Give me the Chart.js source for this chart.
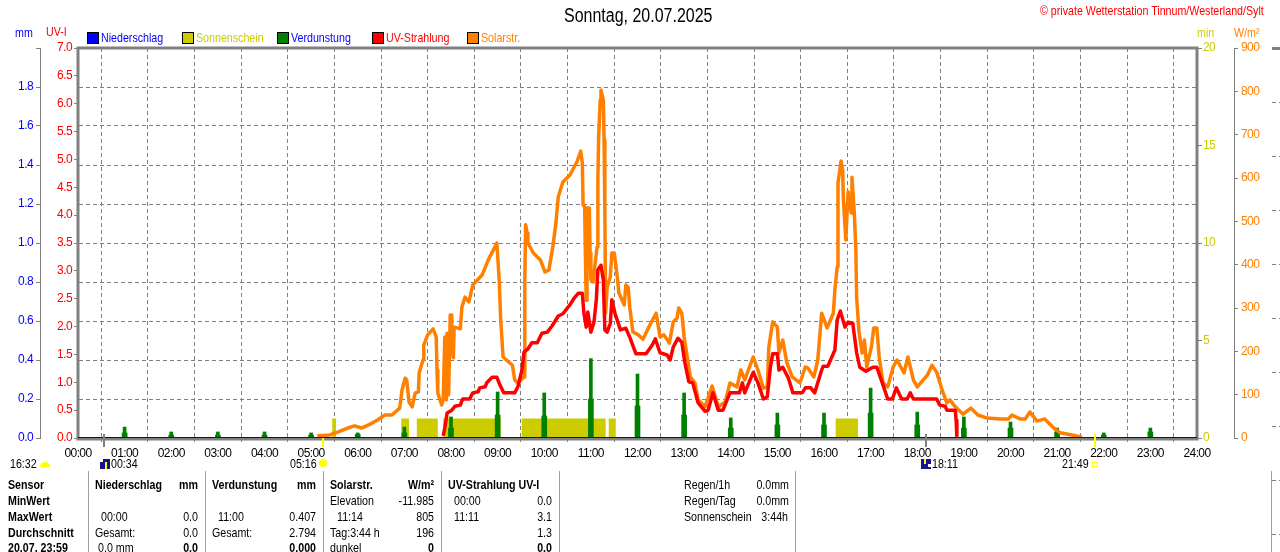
<!DOCTYPE html>
<html lang="de">
<head>
<meta charset="UTF-8">
<title>Sonntag, 20.07.2025</title>
<script src="https://cdn.jsdelivr.net/npm/chart.js"></script>
<style>
html, body { margin: 0; padding: 0; background: #fff; overflow: hidden; }
#page { position: relative; width: 1280px; height: 552px; overflow: hidden; font-family: "Liberation Sans", Arial, sans-serif; font-size: 13px; color: #000; }
#page canvas { position: absolute; left: 0; top: 0; }
.t { position: absolute; white-space: nowrap; line-height: 16px; height: 16px; transform-origin: 0 50%; transform: scaleX(.82); }
.r { transform-origin: 100% 50%; transform: translateX(-100%) scaleX(.82); }
.b { font-weight: bold; }
.box { position: absolute; width: 10px; height: 10px; border: 1px solid #000; top: 32px; }
</style>
</head>
<body>
<div id="page"><canvas id="chart" width="1280" height="552"></canvas></div>
<script>
// x values are minutes of the day
var rainTimes = [0, 1440];
var rainValues = [0, 0];

var sunTimes = [327, 327, 332, 332, 416, 416, 426, 426, 436, 436, 463, 463, 470, 470, 544, 544, 571, 571, 679, 679, 683, 683, 692, 692, 975, 975, 1004, 1004];
var sunValues = [0, 1, 1, 0, 0, 1, 1, 0, 0, 1, 1, 0, 0, 1, 1, 0, 0, 1, 1, 0, 0, 1, 1, 0, 0, 1, 1, 0];

var evapTimes = [60, 120, 180, 240, 300, 360, 420, 480, 540, 600, 660, 720, 780, 840, 900, 960, 1020, 1080, 1140, 1200, 1260, 1320, 1380];
var evapPeak = [.056, .031, .031, .031, .026, .026, .056, .108, .236, .231, .407, .328, .231, .103, .128, .128, .256, .133, .108, .082, .051, .026, .051];
var evapBase = [.026, .015, .015, .015, .015, .018, .026, .051, .118, .113, .2, .164, .118, .051, .067, .067, .128, .067, .051, .051, .031, .015, .031];

var uvTimes = [470, 472, 475, 481, 485, 492, 495, 504, 508, 515, 517, 524, 526, 533, 539, 543, 548, 562, 566, 571, 574, 579, 584, 591, 597, 604, 610, 618, 624, 633, 638, 644, 649, 651, 654, 656, 660, 664, 667, 669, 673, 676, 678, 681, 685, 687, 691, 698, 705, 710, 718, 731, 739, 743, 749, 758, 762, 766, 772, 777, 781, 786, 791, 798, 807, 811, 817, 824, 830, 839, 851, 855, 858, 869, 875, 882, 887, 891, 894, 900, 902, 907, 914, 920, 932, 936, 943, 948, 957, 959, 965, 974, 977, 981, 987, 991, 997, 1002, 1006, 1014, 1023, 1028, 1035, 1042, 1048, 1053, 1060, 1067, 1071, 1075, 1105, 1109, 1116, 1118, 1129, 1130, 1131];
var uvValues = [.04, .18, .45, .5, .57, .59, .7, .7, .81, .83, .9, .92, .99, 1.09, 1.09, .95, .81, .81, .92, 1.2, 1.54, 1.6, 1.71, 1.71, 1.88, 1.9, 2.01, 2.19, 2.23, 2.39, 2.5, 2.6, 2.6, 2.24, 1.99, 2.26, 1.9, 2.08, 2.48, 3.02, 3.1, 2.84, 1.94, 1.9, 2.06, 2.48, 2.24, 1.94, 1.97, 1.81, 1.51, 1.51, 1.67, 1.78, 1.53, 1.49, 1.4, 1.63, 1.79, 1.72, 1.35, 1.01, .99, .63, .48, .5, .81, .5, .5, .81, .81, .99, .81, 1.18, .99, .7, .74, 1.27, 1.51, 1.51, 1.22, 1.27, 1.08, .81, .81, .9, .9, .81, 1.22, 1.29, 1.29, 1.58, 2.12, 2.28, 1.99, 2.08, 2.06, 1.53, 1.27, 1.2, 1.27, 1.27, .99, .7, .7, .9, .7, .7, .81, .7, .7, .59, .57, .5, .5, .32, .02];

var solarTimes = [308, 324, 335, 347, 356, 365, 376, 386, 395, 404, 414, 417, 421, 423, 426, 430, 434, 438, 439, 444, 445, 450, 457, 461, 462, 463, 468, 470, 472, 474, 475, 477, 479, 480, 481, 483, 484, 492, 494, 498, 503, 508, 520, 528, 539, 542, 544, 547, 559, 562, 566, 574, 575, 576, 578, 579, 586, 595, 601, 606, 611, 615, 618, 624, 633, 642, 647, 649, 650, 652, 653, 654, 655, 658, 659, 660, 663, 665, 668, 669, 670, 672, 673, 676, 677, 678, 679, 681, 685, 687, 690, 694, 696, 703, 705, 708, 710, 714, 721, 727, 734, 744, 749, 754, 761, 766, 771, 773, 777, 780, 784, 788, 794, 798, 807, 816, 824, 833, 839, 848, 853, 858, 869, 875, 882, 887, 889, 894, 900, 902, 907, 912, 919, 929, 936, 939, 947, 952, 957, 964, 972, 974, 977, 978, 982, 984, 985, 988, 991, 995, 996, 999, 1001, 1002, 1005, 1009, 1012, 1015, 1021, 1024, 1028, 1031, 1036, 1042, 1049, 1054, 1063, 1068, 1075, 1080, 1093, 1099, 1105, 1112, 1118, 1122, 1129, 1139, 1149, 1158, 1170, 1187, 1197, 1202, 1212, 1219, 1225, 1234, 1244, 1257, 1264, 1279, 1292];
var solarValues = [5, 7, 14, 23, 28, 23, 32, 42, 53, 53, 69, 111, 138, 134, 83, 72, 104, 106, 150, 180, 215, 238, 252, 233, 157, 104, 76, 88, 233, 88, 242, 100, 284, 284, 226, 185, 256, 252, 302, 325, 314, 353, 376, 411, 450, 365, 272, 187, 168, 134, 127, 141, 365, 492, 473, 450, 427, 411, 383, 388, 441, 496, 556, 591, 607, 637, 662, 635, 538, 533, 418, 318, 531, 531, 427, 365, 360, 395, 441, 595, 695, 780, 803, 780, 688, 519, 288, 348, 372, 427, 427, 372, 335, 307, 353, 348, 302, 245, 238, 228, 254, 288, 233, 238, 219, 268, 277, 300, 288, 233, 187, 141, 127, 88, 72, 120, 72, 83, 127, 118, 157, 134, 187, 157, 115, 118, 210, 268, 256, 196, 226, 175, 141, 127, 164, 162, 141, 180, 288, 254, 288, 342, 395, 588, 639, 618, 549, 457, 568, 519, 602, 519, 434, 325, 245, 196, 226, 164, 210, 254, 254, 187, 127, 118, 164, 180, 150, 187, 134, 118, 145, 168, 152, 111, 81, 88, 72, 55, 69, 53, 46, 44, 44, 53, 44, 44, 60, 39, 44, 21, 12, 7, 2];

var GRAY = '#808080', BLUE = '#0000ff', RED = '#ff0000', ORANGE = '#ff8000', OLIVE = '#cccc00', GREEN = '#008000', NAVY = '#14148c';
var tickFont = { family: '"Liberation Sans", Arial, sans-serif', size: 12 };

function pts(xs, ys) {
    return xs.map(function (x, i) { return { x: x, y: ys[i] }; });
}

var page = document.getElementById('page');
function put(x, y, text, cls, color, size) {
    var d = document.createElement('div');
    d.className = 't ' + (cls || '');
    d.style.left = x + 'px';
    d.style.top = (y - 8) + 'px';
    d.textContent = text;
    if (color) d.style.color = color;
    if (size) { d.style.fontSize = size + 'px'; d.style.lineHeight = '20px'; d.style.height = '20px'; d.style.top = (y - 10) + 'px'; }
    page.appendChild(d);
}

// header
put(564, 15, 'Sonntag, 20.07.2025', '', '#000', 19.5);
put(1040, 11, '© private Wetterstation Tinnum/Westerland/Sylt', '', RED, 13);
put(15, 33, 'mm', '', BLUE);
put(46, 32, 'UV-I', '', RED);
put(1197, 33, 'min', '', OLIVE);
put(1234, 33, 'W/m²', '', ORANGE);

// legend
[[87, BLUE, 'Niederschlag', BLUE], [182, OLIVE, 'Sonnenschein', OLIVE], [277, GREEN, 'Verdunstung', BLUE], [372, RED, 'UV-Strahlung', RED], [467, ORANGE, 'Solarstr.', ORANGE]].forEach(function (l) {
    var b = document.createElement('div');
    b.className = 'box';
    b.style.left = l[0] + 'px';
    b.style.background = l[1];
    page.appendChild(b);
    put(l[0] + 14, 38, l[2], '', l[3]);
});

// sunrise / sunset labels
put(10, 464, '16:32');
put(111, 464, '00:34');
put(290, 464, '05:16');
put(932, 464, '18:11');
put(1062, 464, '21:49');

// table
var r1 = 485, r2 = 501, r3 = 517, r4 = 533, r5 = 548;
put(8, r1, 'Sensor', 'b'); put(8, r2, 'MinWert', 'b'); put(8, r3, 'MaxWert', 'b'); put(8, r4, 'Durchschnitt', 'b'); put(8, r5, '20.07. 23:59', 'b');
put(95, r1, 'Niederschlag', 'b'); put(198, r1, 'mm', 'r b');
put(101, r3, '00:00'); put(198, r3, '0.0', 'r');
put(95, r4, 'Gesamt:'); put(198, r4, '0.0', 'r');
put(98, r5, '0.0 mm'); put(198, r5, '0.0', 'r b');
put(212, r1, 'Verdunstung', 'b'); put(316, r1, 'mm', 'r b');
put(218, r3, '11:00'); put(316, r3, '0.407', 'r');
put(212, r4, 'Gesamt:'); put(316, r4, '2.794', 'r');
put(316, r5, '0.000', 'r b');
put(330, r1, 'Solarstr.', 'b'); put(434, r1, 'W/m²', 'r b');
put(330, r2, 'Elevation'); put(434, r2, '-11.985', 'r');
put(337, r3, '11:14'); put(434, r3, '805', 'r');
put(330, r4, 'Tag:3:44 h'); put(434, r4, '196', 'r');
put(330, r5, 'dunkel'); put(434, r5, '0', 'r b');
put(448, r1, 'UV-Strahlung UV-I', 'b');
put(454, r2, '00:00'); put(552, r2, '0.0', 'r');
put(454, r3, '11:11'); put(552, r3, '3.1', 'r');
put(552, r4, '1.3', 'r');
put(552, r5, '0.0', 'r b');
put(684, r1, 'Regen/1h'); put(789, r1, '0.0mm', 'r');
put(684, r2, 'Regen/Tag'); put(789, r2, '0.0mm', 'r');
put(684, r3, 'Sonnenschein'); put(788, r3, '3:44h', 'r');

// frame, sunrise ticks and the little bits around the plot
var extras = {
    id: 'extras',
    beforeDraw: function (chart) {
        // the original font is narrower than anything installed
        chart.ctx.letterSpacing = '-0.6px';
    },
    beforeDatasetsDraw: function (chart) {
        var c = chart.ctx, a = chart.chartArea;
        c.save();
        c.strokeStyle = GRAY;
        c.lineWidth = 3;
        c.strokeRect(a.left, a.top, a.right - a.left, a.bottom - a.top + 1);
        c.restore();
    },
    afterDraw: function (chart) {
        var c = chart.ctx, i;
        c.save();
        // table separators
        c.strokeStyle = '#a0a0a0';
        c.lineWidth = 1;
        [88, 205, 323, 441, 559, 795, 1271].forEach(function (x) {
            c.beginPath(); c.moveTo(x + .5, 471); c.lineTo(x + .5, 552); c.stroke();
        });
        // piece of the next graph on the right edge
        c.fillStyle = GRAY;
        c.fillRect(1272, 47, 8, 3);
        c.strokeStyle = GRAY;
        c.setLineDash([4, 3]);
        for (i = 1; i < 10; i++) {
            c.beginPath(); c.moveTo(1272, 48 + i * 54 + .5); c.lineTo(1280, 48 + i * 54 + .5); c.stroke();
        }
        c.setLineDash([]);
        // rise and set ticks
        c.fillStyle = GRAY;
        c.fillRect(103, 434, 2, 13);
        c.fillRect(925, 434, 2, 13);
        c.fillStyle = '#ffff00';
        c.fillRect(322, 438, 2, 9);
        c.fillRect(1094, 434, 2, 13);
        // half sun at 16:32
        c.beginPath(); c.arc(45, 467, 5, Math.PI, 0); c.fill();
        // sun at 05:16
        c.beginPath(); c.arc(323, 463, 4, 0, Math.PI * 2); c.fill();
        c.fillStyle = '#ffffb0';
        c.fillRect(318, 462, 1, 2); c.fillRect(327, 462, 1, 2);
        // hollow sun at 21:49
        c.strokeStyle = '#ffff00';
        c.strokeRect(1092.5, 462.5, 5, 4);
        // moon icons
        c.fillStyle = NAVY;
        c.fillRect(100, 459, 10, 10);
        c.fillRect(921, 459, 10, 10);
        c.fillStyle = '#fff';
        c.fillRect(100, 459, 3, 3);
        c.fillRect(928, 464, 3, 3);
        c.fillStyle = '#ffff00';
        c.fillRect(105, 462, 2, 7);
        c.fillRect(924, 459, 2, 5);
        c.restore();
    }
};

new Chart(document.getElementById('chart'), {
    type: 'line',
    data: {
        datasets: [
            { label: 'Niederschlag', data: pts(rainTimes, rainValues), yAxisID: 'mm', borderColor: '#0000c0', borderWidth: 2, order: 1 },
            { label: 'UV-Strahlung', data: pts(uvTimes, uvValues), yAxisID: 'uv', borderColor: RED, borderWidth: 3.5, order: 2 },
            { label: 'Solarstr.', data: pts(solarTimes, solarValues), yAxisID: 'w', borderColor: ORANGE, borderWidth: 3.5, order: 3 },
            { type: 'bar', label: 'Verdunstung', data: pts(evapTimes, evapPeak), yAxisID: 'mm', backgroundColor: GREEN, barThickness: 3, grouped: false, order: 4 },
            { type: 'bar', label: 'Verdunstung', data: pts(evapTimes, evapBase), yAxisID: 'mm', backgroundColor: GREEN, barThickness: 5, grouped: false, order: 5 },
            { label: 'Sonnenschein', data: pts(sunTimes, sunValues), yAxisID: 'min', borderWidth: 0, borderColor: OLIVE, backgroundColor: OLIVE, fill: 'origin', order: 6 }
        ]
    },
    options: {
        responsive: false,
        animation: false,
        events: [],
        devicePixelRatio: 1,
        elements: { point: { radius: 0 }, line: { tension: 0, borderJoinStyle: 'round' } },
        layout: { padding: { top: 48, left: 0, right: 0, bottom: 0 } },
        plugins: { legend: { display: false }, tooltip: { enabled: false }, title: { display: false } },
        scales: {
            x: {
                type: 'linear', min: 0, max: 1440, offset: false,
                afterFit: function (s) { s.height = 114; },
                afterBuildTicks: function (s) {
                    s.ticks = [];
                    for (var m = 0; m <= 1440; m += 60) s.ticks.push({ value: m });
                },
                grid: { color: GRAY, lineWidth: 1, tickLength: 4, tickColor: GRAY, tickBorderDash: [] },
                border: { color: GRAY, width: 1, dash: [4, 3] },
                ticks: {
                    color: '#000', maxRotation: 0, autoSkip: false, padding: 4, font: tickFont,
                    callback: function (v) { return (v / 60 < 10 ? '0' : '') + (v / 60) + ':00'; }
                }
            },
            mm: {
                position: 'left', min: 0, max: 2, weight: 2,
                afterFit: function (s) { s.width = 40; },
                grid: { color: GRAY, lineWidth: 1, tickLength: 4, tickColor: GRAY, tickBorderDash: [] },
                border: { color: GRAY, width: 1, dash: [4, 3] },
                ticks: {
                    color: BLUE, stepSize: 0.2, padding: 3, font: tickFont,
                    callback: function (v) { return v >= 2 ? '' : v.toFixed(1); }
                }
            },
            uv: {
                position: 'left', min: 0, max: 7, weight: 1,
                afterFit: function (s) { s.width = 38; },
                grid: { drawOnChartArea: false, tickLength: 4, tickColor: GRAY },
                border: { color: GRAY, width: 1 },
                ticks: {
                    color: RED, stepSize: 0.5, padding: 2, font: tickFont,
                    callback: function (v) { return v.toFixed(1); }
                }
            },
            min: {
                position: 'right', min: 0, max: 20, weight: 1,
                afterFit: function (s) { s.width = 37; },
                grid: { drawOnChartArea: false, tickLength: 5, tickColor: GRAY },
                border: { color: GRAY, width: 1 },
                ticks: { color: OLIVE, stepSize: 5, padding: 1, font: tickFont }
            },
            w: {
                position: 'right', min: 0, max: 900, weight: 2,
                afterFit: function (s) { s.width = 46; },
                grid: { drawOnChartArea: false, tickLength: 4, tickColor: GRAY },
                border: { color: GRAY, width: 1 },
                ticks: { color: ORANGE, stepSize: 100, padding: 3, font: tickFont }
            }
        }
    },
    plugins: [extras]
});
</script>
</body>
</html>
